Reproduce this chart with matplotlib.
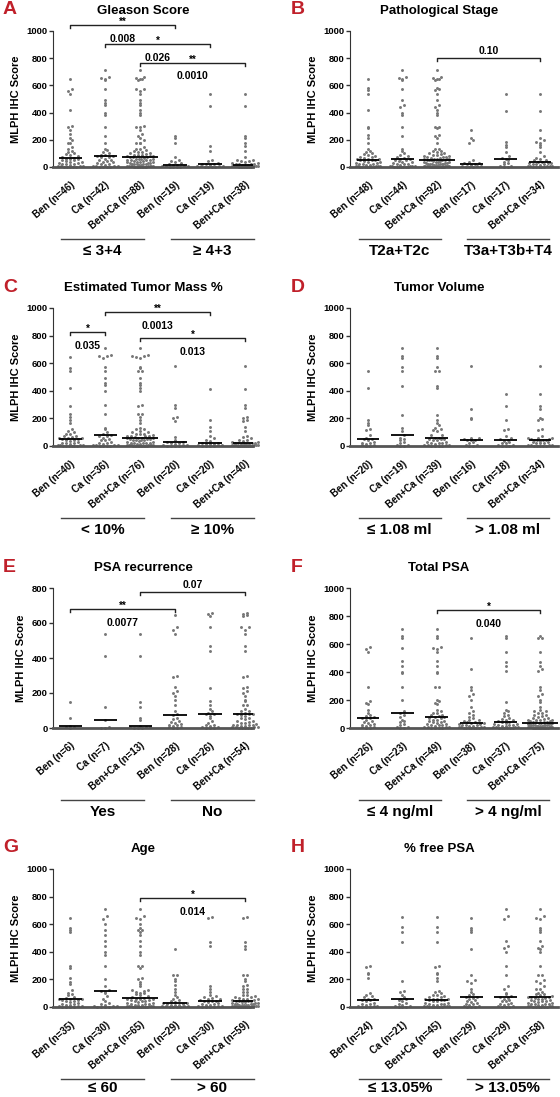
import numpy as np
import matplotlib
matplotlib.use('Agg')
import matplotlib.pyplot as plt

plt.rcParams['font.family'] = ['Liberation Sans', 'DejaVu Sans']
plt.rcParams['font.weight'] = 'bold'

RED = '#c0202a'
DOT = '#777777'

# MLPH IHC scores (Ben / Ca for the two sides of each split)
A_ben_lo = [645, 575, 560, 540, 420, 300, 295, 270, 240, 210, 200, 180, 175, 150, 130, 120, 110, 100, 95, 90,
            80, 75, 68, 62, 60, 58, 55, 50, 45, 40, 35, 30, 30, 25, 20, 20, 15, 10, 10, 5, 5, 0, 0, 0, 0, 0]
A_ca_lo = [710, 660, 655, 650, 640, 575, 490, 470, 455, 400, 380, 295, 230, 180, 130, 125, 110, 100, 90, 85,
           80, 78, 75, 70, 60, 55, 50, 45, 40, 35, 30, 25, 20, 15, 10, 10, 5, 5, 0, 0, 0, 0]
A_ben_hi = [230, 215, 180, 75, 50, 45, 40, 30, 20, 15, 12, 10, 8, 5, 5, 0, 0, 0, 0]
A_ca_hi = [540, 450, 155, 120, 50, 45, 30, 25, 22, 20, 15, 10, 10, 5, 5, 0, 0, 0, 0]

B_ben_lo = [645, 580, 565, 540, 420, 295, 290, 235, 215, 180, 130, 120, 110, 100, 95, 90, 80, 75, 70, 65,
            60, 58, 56, 55, 52, 50, 45, 40, 35, 30, 30, 25, 20, 20, 15, 15, 10, 10, 8, 5, 5, 0, 0, 0, 0, 0, 0, 0]
B_ca_lo = [710, 660, 655, 650, 640, 575, 490, 455, 440, 400, 380, 295, 230, 130, 115, 100, 90, 80, 70, 65,
           60, 57, 55, 50, 45, 40, 35, 30, 25, 20, 20, 15, 10, 10, 8, 5, 5, 0, 0, 0, 0, 0, 0, 0]
B_ben_hi = [275, 210, 200, 180, 55, 40, 30, 28, 25, 20, 15, 10, 8, 5, 0, 0, 0]
B_ca_hi = [540, 410, 185, 160, 150, 110, 80, 65, 60, 50, 40, 30, 20, 10, 5, 0, 0]

C_ben_lo = [645, 565, 540, 420, 290, 235, 210, 190, 170, 120, 110, 100, 90, 85, 75, 70, 65, 60, 57, 55,
            53, 50, 45, 40, 35, 30, 25, 20, 20, 15, 10, 10, 5, 5, 0, 0, 0, 0, 0, 0]
C_ca_lo = [710, 660, 655, 650, 640, 575, 540, 490, 455, 440, 400, 295, 230, 130, 120, 100, 90, 80, 76, 70,
           60, 50, 45, 40, 30, 25, 20, 15, 10, 10, 5, 5, 0, 0, 0, 0]
C_ben_hi = [580, 295, 275, 210, 200, 180, 65, 40, 30, 27, 25, 20, 15, 10, 5, 5, 0, 0, 0, 0]
C_ca_hi = [410, 185, 135, 110, 70, 55, 45, 35, 25, 22, 18, 15, 12, 10, 5, 5, 0, 0, 0, 0]

D_ben_lo = [540, 420, 190, 170, 150, 120, 115, 80, 60, 52, 48, 40, 30, 25, 20, 15, 10, 5, 0, 0]
D_ca_lo = [710, 650, 635, 575, 540, 435, 225, 130, 110, 80, 60, 50, 40, 30, 20, 10, 5, 0, 0]
D_ben_hi = [580, 270, 205, 195, 60, 55, 50, 47, 43, 40, 30, 20, 10, 5, 0, 0]
D_ca_hi = [380, 290, 185, 120, 115, 70, 55, 50, 42, 38, 30, 25, 20, 10, 5, 0, 0, 0]

E_ben_yes = [150, 60, 12, 8, 5, 0]
E_ca_yes = [540, 410, 120, 45, 5, 0, 0]
E_ben_no = [645, 575, 560, 540, 295, 290, 235, 210, 200, 185, 160, 130, 100, 78, 72, 60, 50, 40, 35, 30,
            25, 20, 15, 10, 5, 5, 0, 0]
E_ca_no = [660, 650, 640, 575, 470, 440, 230, 155, 130, 110, 95, 85, 82, 78, 70, 55, 40, 30, 20, 15,
           10, 5, 5, 0, 0, 0]

F_ben_lo = [580, 565, 540, 290, 190, 180, 170, 130, 110, 95, 85, 78, 72, 68, 60, 50, 40, 35, 30, 25,
            20, 15, 10, 5, 0, 0]
F_ca_lo = [710, 660, 645, 575, 480, 440, 400, 390, 295, 200, 120, 110, 90, 80, 60, 50, 40, 30, 20, 10, 5, 0, 0]
F_ben_hi = [645, 420, 295, 275, 240, 230, 200, 150, 125, 110, 95, 80, 70, 60, 55, 50, 45, 40, 37, 33,
            30, 28, 25, 20, 18, 15, 12, 10, 8, 5, 5, 3, 0, 0, 0, 0, 0, 0]
F_ca_hi = [655, 645, 540, 470, 440, 410, 185, 130, 120, 105, 95, 85, 75, 65, 60, 55, 50, 45, 40, 35,
           30, 28, 25, 20, 18, 15, 12, 10, 8, 5, 5, 3, 0, 0, 0, 0, 0]

G_ben_lo = [645, 570, 560, 540, 295, 285, 210, 180, 170, 120, 105, 95, 85, 75, 65, 60, 57, 55, 52, 50,
            45, 40, 35, 30, 25, 20, 15, 12, 10, 5, 5, 0, 0, 0, 0]
G_ca_lo = [710, 660, 640, 600, 560, 520, 480, 440, 400, 380, 295, 200, 150, 120, 118, 112, 100, 80, 60, 40,
           30, 20, 15, 10, 5, 5, 0, 0, 0, 0]
G_ben_hi = [420, 235, 230, 200, 190, 160, 130, 110, 85, 70, 60, 50, 40, 35, 30, 28, 25, 20, 18, 15,
            12, 10, 8, 5, 5, 0, 0, 0, 0]
G_ca_hi = [655, 645, 470, 445, 155, 130, 110, 90, 80, 70, 65, 60, 55, 50, 47, 43, 40, 35, 30, 25,
           20, 15, 12, 10, 5, 5, 0, 0, 0, 0]

H_ben_lo = [295, 290, 250, 240, 210, 100, 90, 80, 70, 60, 55, 52, 48, 40, 30, 25, 20, 15, 10, 5, 5, 0, 0, 0]
H_ca_lo = [650, 580, 545, 470, 185, 115, 110, 90, 70, 60, 55, 50, 40, 30, 20, 15, 10, 5, 0, 0, 0]
H_ben_hi = [645, 570, 560, 540, 420, 235, 195, 185, 175, 130, 110, 95, 85, 75, 70, 65, 60, 50, 40, 35,
            30, 25, 20, 15, 10, 5, 0, 0, 0]
H_ca_hi = [710, 660, 640, 480, 440, 430, 400, 295, 230, 150, 130, 105, 95, 80, 70, 65, 60, 50, 45, 40,
           30, 25, 20, 15, 10, 5, 0, 0, 0]

panels = [
  dict(letter='A', title='Gleason Score', groups=('≤ 3+4', '≥ 4+3'),
       data=(A_ben_lo, A_ca_lo, A_ben_hi, A_ca_hi), ymax=1000,
       sig=[(0, 3, 1043, '**', '0.008'), (1, 4, 906, '*', '0.026'), (2, 5, 768, '**', '0.0010')]),
  dict(letter='B', title='Pathological Stage', groups=('T2a+T2c', 'T3a+T3b+T4'),
       data=(B_ben_lo, B_ca_lo, B_ben_hi, B_ca_hi), ymax=1000,
       sig=[(2, 5, 804, '', '0.10')]),
  dict(letter='C', title='Estimated Tumor Mass %', groups=('< 10%', '≥ 10%'),
       data=(C_ben_lo, C_ca_lo, C_ben_hi, C_ca_hi), ymax=1000,
       sig=[(0, 1, 826, '*', '0.035'), (1, 4, 971, '**', '0.0013'), (2, 5, 783, '*', '0.013')]),
  dict(letter='D', title='Tumor Volume', groups=('≤ 1.08 ml', '> 1.08 ml'),
       data=(D_ben_lo, D_ca_lo, D_ben_hi, D_ca_hi), ymax=1000, sig=[]),
  dict(letter='E', title='PSA recurrence', groups=('Yes', 'No'),
       data=(E_ben_yes, E_ca_yes, E_ben_no, E_ca_no), ymax=800,
       sig=[(2, 5, 777, '', '0.07'), (0, 3, 681, '**', '0.0077')]),
  dict(letter='F', title='Total PSA', groups=('≤ 4 ng/ml', '> 4 ng/ml'),
       data=(F_ben_lo, F_ca_lo, F_ben_hi, F_ca_hi), ymax=1000,
       sig=[(2, 5, 841, '*', '0.040')]),
  dict(letter='G', title='Age', groups=('≤ 60', '> 60'),
       data=(G_ben_lo, G_ca_lo, G_ben_hi, G_ca_hi), ymax=1000,
       sig=[(2, 5, 790, '*', '0.014')]),
  dict(letter='H', title='% free PSA', groups=('≤ 13.05%', '> 13.05%'),
       data=(H_ben_lo, H_ca_lo, H_ben_hi, H_ca_hi), ymax=1000, sig=[]),
]

W, H = 560, 1097
# spine x, right end x, xlim, title x, letter x (pixels)
cols = [(53, 253, -0.49, 5.23, 143, 3), (350, 558, -0.52, 5.52, 439, 291)]
# axes top, bottom, group-label offset (pixels)
rows = [(31, 167, 84), (308, 446, 84), (588, 728, 84), (869, 1007, 81)]


def swarm(vals, h, dx=0.11, wmax=0.36):
  vals = np.asarray(vals, float)
  offs = np.zeros(len(vals))
  bins = np.round(vals / h).astype(int)
  for b in np.unique(bins):
    idx = np.where(bins == b)[0]
    idx = idx[np.argsort(vals[idx])]
    n = len(idx)
    if n > 1:
      sp = min(dx, 2*wmax/(n-1))
      pos = (np.arange(n) - (n-1)/2) * sp
      # centre-out so the row looks even
      order = np.argsort(np.abs(pos), kind='stable')
      offs[idx] = pos[order]
  return offs


fig = plt.figure(figsize=(W/100, H/100), dpi=100)

for k, p in enumerate(panels):
  x0, x1, xl0, xl1, tx, lx = cols[k % 2]
  top, bot, goff = rows[k // 2]
  hpx = bot - top
  ax = fig.add_axes([x0/W, 1-bot/H, (x1-x0)/W, hpx/H])
  ymax = p['ymax']
  blo, clo, bhi, chi = p['data']
  groups = [blo, clo, blo+clo, bhi, chi, bhi+chi]
  names = ['Ben', 'Ca', 'Ben+Ca', 'Ben', 'Ca', 'Ben+Ca']
  dy = 3.2/hpx*ymax
  for i, vals in enumerate(groups):
    offs = swarm(vals, dy)
    ax.scatter(i+offs, vals, s=4.5, c=DOT, lw=0, clip_on=False, zorder=2)
    med = np.median(vals)
    hw = 0.33 if len(vals) < 60 else 0.52
    ax.plot([i-hw, i+hw], [med, med], color='k', lw=1.3, zorder=3, solid_capstyle='butt')

  ax.set_xlim(xl0, xl1)
  ax.set_ylim(0, ymax)
  ax.set_yticks(range(0, ymax+1, 200))
  ax.set_xticks(range(6))
  ax.set_xticklabels([f'{nm} (n={len(g)})' for nm, g in zip(names, groups)],
                     rotation=40, ha='right', va='top', rotation_mode='anchor', fontsize=7)
  ax.tick_params(axis='x', length=0, pad=9)
  ax.tick_params(axis='y', length=3, width=1, labelsize=6.8, pad=1, color='#333333')
  for lab in ax.get_yticklabels() + ax.get_xticklabels():
    lab.set_fontweight('bold')
  ax.spines['top'].set_visible(False)
  ax.spines['right'].set_visible(False)
  ax.spines['left'].set_color('#333333')
  ax.spines['bottom'].set_color('#555555')
  ax.spines['bottom'].set_linewidth(2)
  ax.set_ylabel('MLPH IHC Score', fontsize=8, fontweight='bold', labelpad=4)

  drop = 3/hpx*ymax
  for a, b, y, star, pv in p['sig']:
    ax.plot([a, a, b, b], [y-drop, y, y, y-drop], color='#222222', lw=1, clip_on=False)
    c = (a+b)/2
    if star:
      ax.annotate(star, (c, y), xytext=(0, -1.5), textcoords='offset points',
                  ha='center', va='bottom', fontsize=7, fontweight='bold', annotation_clip=False)
      ax.annotate(pv, (c, y), xytext=(0, -10), textcoords='offset points',
                  ha='center', va='center', fontsize=7.5, fontweight='bold', annotation_clip=False)
    else:
      ax.annotate(pv, (c, y), xytext=(0, 1.5), textcoords='offset points',
                  ha='center', va='bottom', fontsize=7.5, fontweight='bold', annotation_clip=False)

  tr = ax.get_xaxis_transform()
  yl = -72/hpx
  yt = -goff/hpx
  spans = [(-0.27, 2.12), (2.88, 5.25)]
  for (s0, s1), g in zip(spans, p['groups']):
    ax.plot([s0, s1], [yl, yl], color='#444444', lw=1, transform=tr, clip_on=False)
    ax.text((s0+s1)/2, yt, g, transform=tr, ha='center', va='center', fontsize=11, fontweight='bold')

  fig.text(tx/W, 1-(top-20)/H, p['title'], ha='center', va='center', fontsize=9.5, fontweight='bold')
  fig.text(lx/W, 1-(top-21)/H, p['letter'], ha='left', va='center', fontsize=14,
           fontweight='bold', color=RED)

fig.savefig('out.png', dpi=100)
